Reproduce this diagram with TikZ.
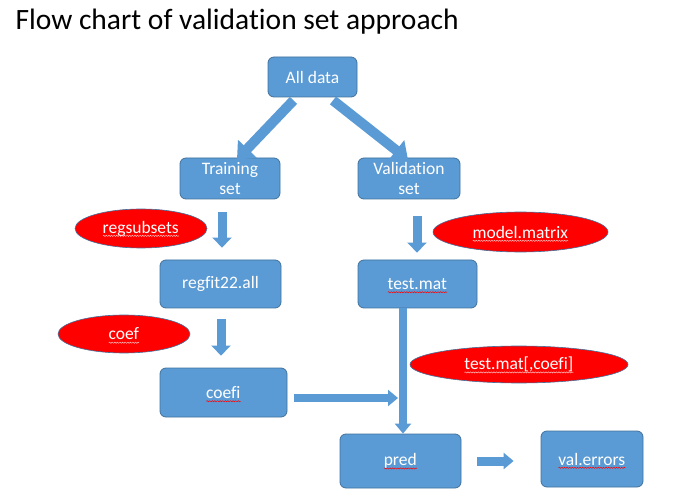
\documentclass[tikz,border=0pt]{standalone}
\usepackage{fontspec}
\setmainfont{Carlito}[Ligatures=NoCommon]
\usetikzlibrary{shapes.geometric,arrows.meta,decorations.pathmorphing}
\definecolor{boxblue}{HTML}{5B9BD5}
\definecolor{boxedge}{HTML}{41719C}
\definecolor{ovalred}{HTML}{FF0000}
% red wavy underline (spell check marks)
\newcommand{\spellmark}[2][red]{\setbox0=\hbox{#2}\rlap{\copy0}\smash{\tikz[baseline=0pt]\draw[#1,sharp corners,line width=0.5pt,decorate,decoration={snake,amplitude=0.6pt,segment length=2.6pt}] (0pt,-2.8pt) -- (\wd0,-2.8pt);}}
\begin{document}
\begin{tikzpicture}[x=1pt,y=-1pt,
  main box/.style={rectangle,rounded corners=6pt,draw=boxedge,line width=0.8pt,fill=boxblue,text=white,inner sep=0pt,align=center,font=\fontsize{17.5}{20}\selectfont},
  main oval/.style={ellipse,draw=boxedge,line width=0.6pt,fill=ovalred,text=white,inner sep=0pt,font=\fontsize{17.5}{20}\selectfont},
  block arrow/.style={draw=boxblue,line width=9pt,-{Triangle[width=19pt,length=10pt]}},
  thin arrow/.style={draw=boxblue,line width=7.5pt,-{Triangle[width=16pt,length=10pt]}}]
  \useasboundingbox (0,0) rectangle (673,492);
  \node[anchor=base west,font=\fontsize{29.5}{32}\selectfont] (title) at (12,30) {Flow chart of validation set approach};

  \node[main box,minimum width=89pt,minimum height=40pt] (alldata) at (312.5,77) {All data};
  \node[main box,minimum width=100pt,minimum height=41pt] (train) at (230,178.5) {Training\\set};
  \node[main box,minimum width=102pt,minimum height=41pt] (valid) at (409,178.5) {Validation\\set};
  \node[main box,minimum width=121pt,minimum height=48pt] (regfit) at (220.5,284) {regfit22.all};
  \node[main box,minimum width=119pt,minimum height=48pt] (testmat) at (417.5,284) {\spellmark{test.mat}};
  \node[main box,minimum width=127pt,minimum height=49pt] (coefi) at (223.5,392.5) {\spellmark{coefi}};
  \node[main box,minimum width=121pt,minimum height=54pt] (pred) at (400.5,461) {\spellmark{pred}};
  \node[main box,minimum width=102pt,minimum height=56pt] (valerr) at (592,459) {\spellmark{val.errors}};

  \node[main oval,minimum width=132pt,minimum height=39pt] (regsub) at (141,228.5) {\spellmark[red!25!white]{regsubsets}};
  \node[main oval,minimum width=175pt,minimum height=40pt] (modmat) at (520.5,232) {\spellmark[red!25!white]{model.matrix}};
  \node[main oval,minimum width=132pt,minimum height=38pt] (coef) at (124,334) {\spellmark[red!25!white]{coef}};
  \node[main oval,minimum width=218pt,minimum height=37pt] (subset) at (519,364.5) {\spellmark[red!25!white]{test.mat[,coefi]}};

  \coordinate (join) at (398,398);

  \draw[block arrow,line width=10pt,-{Triangle[width=25pt,length=15pt]}] ([xshift=-19pt,yshift=-3pt]alldata.south) -- ([xshift=7pt,yshift=-2pt]train.north);
  \draw[block arrow,line width=10pt,-{Triangle[width=25pt,length=15pt]}] ([xshift=20.5pt,yshift=-3pt]alldata.south) -- ([xshift=-1pt,yshift=-2pt]valid.north);
  \draw[block arrow] ([xshift=-8pt,yshift=-13pt]train.south) -- ([xshift=1.5pt,yshift=12pt]regfit.north);
  \draw[block arrow] ([xshift=8pt,yshift=-17pt]valid.south) -- ([xshift=-0.5pt,yshift=7pt]testmat.north);
  \draw[block arrow] ([xshift=0.5pt,yshift=-11pt]regfit.south) -- ([xshift=-2.5pt,yshift=12pt]coefi.north);
  \draw[thin arrow] ([xshift=-14.5pt]testmat.south) -- ([xshift=2.5pt]pred.north);
  \draw[thin arrow] ([xshift=7pt,yshift=-5.5pt]coefi.east) -- (join);
  \draw[thin arrow,line width=9pt] ([xshift=16pt]pred.east) -- ([xshift=-27pt,yshift=-2pt]valerr.west);
\end{tikzpicture}
\end{document}
